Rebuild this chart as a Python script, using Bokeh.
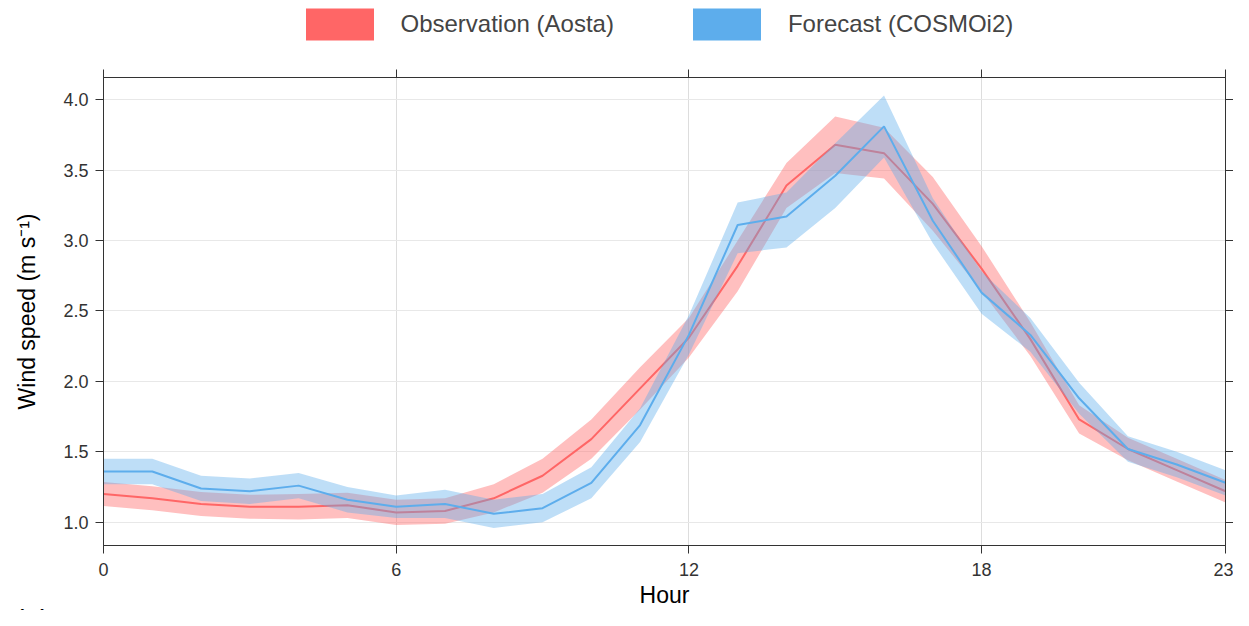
from bokeh.plotting import figure
from bokeh.layouts import column
from bokeh.models import (Range1d, LinearAxis, FixedTicker, Legend, LegendItem, Title)
from bokeh.embed import file_html
from bokeh.resources import INLINE

hours = list(range(24))
obs = [1.20, 1.17, 1.13, 1.11, 1.11, 1.12, 1.07, 1.08, 1.17, 1.33, 1.59, 1.95,
       2.31, 2.82, 3.39, 3.68, 3.62, 3.26, 2.80, 2.30, 1.73, 1.52, 1.37, 1.22]
obs_hi = [1.285, 1.255, 1.215, 1.195, 1.20, 1.21, 1.16, 1.17, 1.27, 1.45, 1.73, 2.10,
          2.45, 3.00, 3.55, 3.88, 3.80, 3.45, 2.96, 2.42, 1.83, 1.60, 1.45, 1.30]
obs_lo = [1.115, 1.085, 1.045, 1.025, 1.02, 1.03, 0.98, 0.99, 1.07, 1.21, 1.45, 1.80,
          2.17, 2.64, 3.23, 3.48, 3.44, 3.07, 2.64, 2.18, 1.63, 1.44, 1.29, 1.14]
fc = [1.36, 1.36, 1.24, 1.22, 1.26, 1.16, 1.11, 1.13, 1.06, 1.10, 1.28, 1.69,
      2.33, 3.11, 3.17, 3.46, 3.81, 3.14, 2.63, 2.33, 1.88, 1.52, 1.41, 1.28]
fc_hi = [1.45, 1.45, 1.33, 1.31, 1.35, 1.25, 1.19, 1.23, 1.16, 1.20, 1.39, 1.81,
         2.47, 3.27, 3.34, 3.69, 4.03, 3.30, 2.78, 2.45, 1.99, 1.61, 1.50, 1.37]
fc_lo = [1.27, 1.27, 1.15, 1.13, 1.17, 1.07, 1.03, 1.03, 0.96, 1.00, 1.17, 1.57,
         2.19, 2.91, 2.95, 3.23, 3.59, 2.98, 2.48, 2.21, 1.77, 1.43, 1.32, 1.19]

x_ticks = [0, 6, 12, 18, 23]
y_ticks = [1.0, 1.5, 2.0, 2.5, 3.0, 3.5, 4.0]
y_tick_labels = {1.0: "1.0", 1.5: "1.5", 2.0: "2.0", 2.5: "2.5", 3.0: "3.0", 3.5: "3.5", 4.0: "4.0"}
labels = ["Observation (Aosta)", "Forecast (COSMOi2)"]
panel_label = "(a)"

RED = "#FF6666"
BLUE = "#5DADEC"
FONT = "Liberation Sans"

W = 1233
LEG_H = 44
H = 610 - LEG_H
BL, BR, BT, BB = 103, 8, 33, 62

# ---- legend strip (frame aligned with the main plot's frame) ----
lf = figure(width=W, height=LEG_H, output_backend="svg", toolbar_location=None,
            x_range=Range1d(0, 23), y_range=Range1d(0, 5),
            x_axis_type=None, y_axis_type=None,
            min_border_left=BL, min_border_right=BR, min_border_top=0, min_border_bottom=0)
lf.outline_line_color = None
lf.grid.visible = False
k1 = lf.varea(x=hours, y1=obs, y2=obs, fill_color=RED, fill_alpha=1, visible=False)
k2 = lf.varea(x=hours, y1=fc, y2=fc, fill_color=BLUE, fill_alpha=1, visible=False)
legend = Legend(items=[LegendItem(label=labels[0], renderers=[k1]),
                       LegendItem(label=labels[1], renderers=[k2])],
                orientation="horizontal", location=(193.5, 0),
                glyph_width=85, glyph_height=40, label_standoff=19, spacing=70,
                padding=0, margin=0, border_line_color=None, background_fill_alpha=0,
                inactive_fill_alpha=0,
                label_text_font=FONT, label_text_font_size="24px", label_height=40)
lf.add_layout(legend, "center")

# ---- main plot ----
p = figure(width=W, height=H, output_backend="svg", toolbar_location=None,
           x_range=Range1d(0, 23), y_range=Range1d(0.835, 4.157),
           min_border_left=BL, min_border_right=BR, min_border_top=BT, min_border_bottom=BB)
p.background_fill_color = "white"
p.border_fill_color = "white"
p.outline_line_color = "#333333"

p.varea(x=hours, y1=obs_lo, y2=obs_hi, fill_color=RED, fill_alpha=0.42)
p.line(x=hours, y=obs, line_color=RED, line_width=2)
p.varea(x=hours, y1=fc_lo, y2=fc_hi, fill_color=BLUE, fill_alpha=0.4)
p.line(x=hours, y=fc, line_color=BLUE, line_width=2)

for ax in (p.xaxis[0], p.yaxis[0]):
    ax.axis_line_color = "#333333"
    ax.major_tick_line_color = "#333333"
    ax.major_tick_out = 8
    ax.major_tick_in = 0
    ax.minor_tick_line_color = None
    ax.major_label_text_font = FONT
    ax.major_label_text_font_size = "18px"
    ax.major_label_text_color = "#333333"
    ax.axis_label_text_font = FONT
    ax.axis_label_text_font_size = "23px"
    ax.axis_label_text_font_style = "normal"
    ax.axis_label_text_color = "black"

p.xaxis[0].ticker = FixedTicker(ticks=x_ticks)
p.yaxis[0].ticker = FixedTicker(ticks=y_ticks)
p.yaxis[0].major_label_overrides = y_tick_labels
p.xaxis[0].axis_label = "Hour"
p.yaxis[0].axis_label = "Wind speed (m s\u207b\u00b9)"
p.xaxis[0].major_label_standoff = 9
p.xaxis[0].axis_label_standoff = 3
p.yaxis[0].major_label_standoff = 7
p.yaxis[0].axis_label_standoff = 20

top_ax = LinearAxis(ticker=FixedTicker(ticks=x_ticks))
right_ax = LinearAxis(ticker=FixedTicker(ticks=y_ticks))
for ax in (top_ax, right_ax):
    ax.axis_line_color = "#333333"
    ax.major_tick_line_color = "#333333"
    ax.major_tick_out = 8
    ax.major_tick_in = 0
    ax.minor_tick_line_color = None
    ax.major_label_text_font_size = "0px"
    ax.major_label_text_color = None
    ax.major_label_standoff = 0
p.add_layout(top_ax, "above")
p.add_layout(right_ax, "right")

p.xgrid.ticker = FixedTicker(ticks=x_ticks)
p.ygrid.ticker = FixedTicker(ticks=y_ticks)
p.xgrid.grid_line_color = "#dddddd"
p.ygrid.grid_line_color = "#e8e8e8"

p.add_layout(Title(text=panel_label, align="left", offset=-89, standoff=-52,
                   text_font=FONT, text_font_size="29px", text_color="black",
                   text_font_style="normal"), "below")

layout = column(lf, p, spacing=0)
open("out.html", "w").write(file_html(layout, INLINE))
